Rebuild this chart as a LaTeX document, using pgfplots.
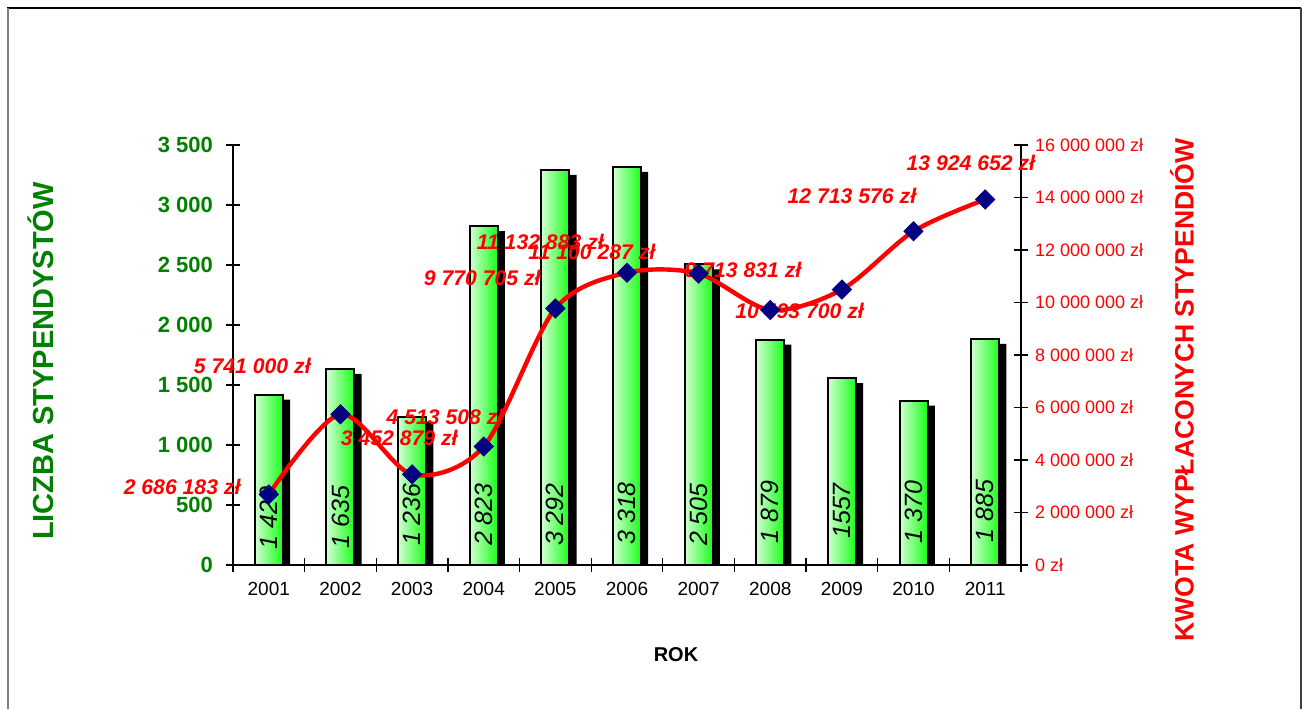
\documentclass[border=0pt]{standalone}
\usepackage{pgfplots}
\pgfplotsset{compat=1.18}
\usepackage{fontspec}
\setmainfont{Liberation Sans}
\definecolor{xlgreen}{RGB}{0,128,0}
\definecolor{navy}{RGB}{0,0,128}
\definecolor{barlight}{RGB}{210,255,210}
\definecolor{barbright}{RGB}{25,255,25}
\newcommand{\gbar}[2]{\addplot[ybar, bar width=14pt, bar shift=0pt, draw=black, line width=1pt,
  left color=barlight, right color=barbright] coordinates {(#1,#2)};}
\begin{document}
\begin{tikzpicture}
\path (0,0) rectangle (651.5pt,354.5pt);
\draw[black, line width=1pt] (3.5pt,350.5pt) -- (650.5pt,350.5pt);
\draw[gray, line width=1pt] (3.75pt,0) -- (3.75pt,350.5pt);
\draw[darkgray, line width=1pt] (650.5pt,0) -- (650.5pt,350.5pt);

\begin{axis}[
  at={(116.5pt,72pt)}, anchor=south west, scale only axis,
  width=394pt, height=210pt,
  xmin=-0.5, xmax=10.5, ymin=0, ymax=3500,
  axis x line*=bottom, axis y line*=left,
  xtick={-0.5,0.5,...,10.5}, xticklabels={},
  extra x ticks={0,1,2,3,4,5,6,7,8,9,10},
  extra x tick labels={2001,2002,2003,2004,2005,2006,2007,2008,2009,2010,2011},
  extra x tick style={major tick length=0pt},
  xticklabel style={font=\fontsize{9.5}{11}\selectfont, yshift=-5pt},
  ytick={0,500,1000,1500,2000,2500,3000,3500},
  yticklabels={0,500,1 000,1 500,2 000,2 500,3 000,3 500},
  yticklabel style={font=\bfseries\fontsize{11}{13}\selectfont, text=xlgreen, xshift=-3pt},
  tick align=center, major tick length=7pt,
  tick style={black, line width=0.6pt},
  axis line style={line width=0.7pt},
]
\addplot[ybar, bar width=14pt, bar shift=3.6pt, fill=black, draw=none, yshift=-2.5pt]
  coordinates {(0,1420) (1,1635) (2,1236) (3,2823) (4,3292) (5,3318) (6,2505) (7,1879) (8,1557) (9,1370) (10,1885)};
\gbar{0}{1420}
\gbar{1}{1635}
\gbar{2}{1236}
\gbar{3}{2823}
\gbar{4}{3292}
\gbar{5}{3318}
\gbar{6}{2505}
\gbar{7}{1879}
\gbar{8}{1557}
\gbar{9}{1370}
\gbar{10}{1885}
\begin{scope}[every node/.style={rotate=90, font=\itshape\fontsize{12.5}{14}\selectfont, inner sep=0pt}]
\node at (axis cs:0,390) {1 420};
\node at (axis cs:1,400) {1 635};
\node at (axis cs:2,420) {1 236};
\node at (axis cs:3,420) {2 823};
\node at (axis cs:4,420) {3 292};
\node at (axis cs:5,430) {3 318};
\node at (axis cs:6,420) {2 505};
\node at (axis cs:7,440) {1 879};
\node at (axis cs:8,450) {1557};
\node at (axis cs:9,440) {1 370};
\node at (axis cs:10,450) {1 885};
\end{scope}
\end{axis}

\begin{axis}[
  at={(116.5pt,72pt)}, anchor=south west, scale only axis,
  width=394pt, height=210pt,
  xmin=-0.5, xmax=10.5, ymin=0, ymax=16000000,
  axis x line=none, axis y line*=right,
  scaled y ticks=false,
  ytick={0,2000000,4000000,6000000,8000000,10000000,12000000,14000000,16000000},
  yticklabels={0 zł,2 000 000 zł,4 000 000 zł,6 000 000 zł,8 000 000 zł,10 000 000 zł,12 000 000 zł,14 000 000 zł,16 000 000 zł},
  yticklabel style={font=\fontsize{9}{11}\selectfont, text=red},
  tick align=center, major tick length=7pt,
  tick style={black, line width=0.6pt},
  axis line style={line width=0.7pt},
  clip=false,
]
\addplot[red, line width=2.2pt, smooth, mark=square*, mark size=3.4pt,
  mark options={rotate=45, fill=navy, draw=navy, line width=0.4pt}]
  coordinates {(0,2686183) (1,5741000) (2,3452879) (3,4513508) (4,9770705) (5,11132883) (6,11100287) (7,9713831) (8,10493700) (9,12713576) (10,13924652)};
\begin{scope}[every node/.style={text=red, font=\bfseries\itshape\fontsize{10.6}{12}\selectfont, inner sep=0pt}]
\node at (axis cs:-1.21,2970000) {2 686 183 zł};
\node at (axis cs:-0.23,7580000) {5 741 000 zł};
\node at (axis cs:1.82,4840000) {3 452 879 zł};
\node at (axis cs:2.46,5640000) {4 513 508 zł};
\node at (axis cs:2.98,10930000) {9 770 705 zł};
\node at (axis cs:3.79,12300000) {11 132 883 zł};
\node at (axis cs:4.51,11920000) {11 100 287 zł};
\node at (axis cs:6.62,11240000) {9 713 831 zł};
\node at (axis cs:7.41,9680000) {10 493 700 zł};
\node at (axis cs:8.14,14060000) {12 713 576 zł};
\node at (axis cs:9.80,15310000) {13 924 652 zł};
\end{scope}
\end{axis}

\node[rotate=90, text=xlgreen, font=\bfseries\fontsize{14.5}{16}\selectfont] at (20.5pt,174pt) {LICZBA STYPENDYSTÓW};
\node[rotate=90, text=red, font=\bfseries\fontsize{13.3}{15}\selectfont] at (591pt,159.5pt) {KWOTA WYPŁACONYCH STYPENDIÓW};
\node[font=\bfseries\fontsize{10}{12}\selectfont] at (338pt,27pt) {ROK};
\end{tikzpicture}
\end{document}
